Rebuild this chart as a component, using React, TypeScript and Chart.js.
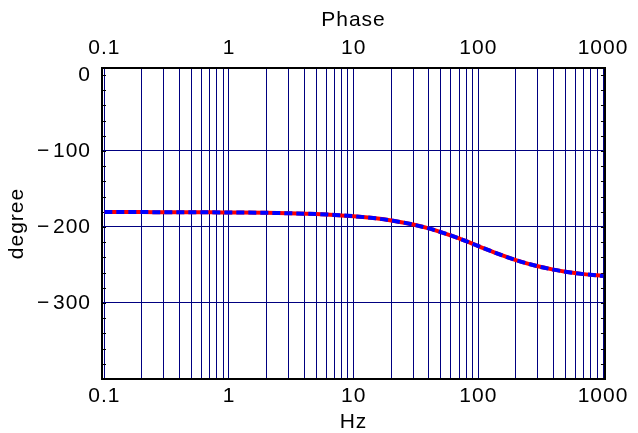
import React, { useEffect, useRef } from "react";
import { Chart, registerables } from "chart.js";

Chart.register(...registerables);

// ---- data ----
const freqHz = [0.1, 0.2, 0.3, 0.5, 0.7, 1, 2, 3, 5, 7, 10, 15, 20, 30, 40, 50, 70, 100, 150, 200, 300, 400, 500, 700, 1000];
const phaseDeg = [
  -180.4, -180.4, -180.5, -180.6, -180.7, -180.9, -181.3, -181.9, -183.0, -184.1, -185.8,
  -188.6, -191.4, -196.8, -201.9, -206.7, -215.1, -225.1, -236.4, -243.5, -251.7, -256.1,
  -258.8, -262.0, -264.4,
];

const xGridTicks = [
  0.1, 0.2, 0.3, 0.4, 0.5, 0.6, 0.7, 0.8, 0.9,
  1, 2, 3, 4, 5, 6, 7, 8, 9,
  10, 20, 30, 40, 50, 60, 70, 80, 90,
  100, 200, 300, 400, 500, 600, 700, 800, 900,
  1000,
];
const xLabelTicks = [0.1, 1, 10, 100, 1000];
const yTicks = [-400, -300, -200, -100, 0];
const yLabelTicks = [-300, -200, -100, 0];
const yGridTicks = [-300, -200, -100];
const yMinorTicks = [-400, -380, -360, -340, -320, -300, -280, -260, -240, -220, -200, -180, -160, -140, -120, -100, -80, -60, -40, -20, 0];

const X_MIN = 0.0958;
const X_MAX = 1037;
const Y_MIN = -400;
const Y_MAX = 9.2;

const FONT_FAMILY = '"Liberation Sans", Arial, Helvetica, sans-serif';
const NAVY = "#000080";

export default function App() {
  const canvasRef = useRef<HTMLCanvasElement>(null);

  useEffect(() => {
    document.body.style.margin = "0";
    const canvas = canvasRef.current;
    if (!canvas) return;

    const tickFont = { family: FONT_FAMILY, size: 21, lineHeight: 1 };
    const titleFont = { family: FONT_FAMILY, size: 21, lineHeight: 1 };
    const points = freqHz.map((x, i) => ({ x, y: phaseDeg[i] }));

    const fmtX = (v: any) => (xLabelTicks.includes(Number(v)) ? String(Number(v)) : "");
    const fmtY = (v: any) => {
      const n = Number(v);
      if (!yLabelTicks.includes(n)) return "";
      return n === 0 ? "0" : "\u2212\u200A" + Math.abs(n);
    };
    const setLogTicks = (s: any) => {
      s.ticks = xGridTicks.map((v) => ({ value: v }));
    };
    const setYTicks = (s: any) => {
      s.ticks = yTicks.map((v) => ({ value: v }));
    };

    const spacingPlugin = {
      id: "spacing",
      beforeLayout(chart: any) {
        chart.ctx.letterSpacing = "1px";
      },
      beforeDraw(chart: any) {
        chart.ctx.letterSpacing = "1px";
      },
    };

    const minorTicksPlugin = {
      id: "minorTicks",
      beforeDatasetsDraw(chart: any) {
        const { ctx, chartArea, scales } = chart;
        const y = scales.y;
        ctx.save();
        ctx.strokeStyle = "#000";
        ctx.lineWidth = 1;
        ctx.beginPath();
        for (const v of yMinorTicks) {
          const py = Math.round(y.getPixelForValue(v)) + 0.5;
          ctx.moveTo(chartArea.left, py);
          ctx.lineTo(chartArea.left + 4, py);
          ctx.moveTo(chartArea.right, py);
          ctx.lineTo(chartArea.right - 4, py);
        }
        ctx.stroke();
        ctx.restore();
      },
    };

    const chart = new Chart(canvas, {
      type: "line",
      data: {
        datasets: [
          {
            data: points,
            borderColor: "#0000ff",
            borderWidth: 4,
            borderDash: [8, 4],
            pointRadius: 0,
            fill: false,
            cubicInterpolationMode: "monotone",
            order: 1,
          },
          {
            data: points,
            borderColor: "#ff0000",
            borderWidth: 4,
            pointRadius: 0,
            fill: false,
            cubicInterpolationMode: "monotone",
            order: 2,
          },
        ],
      },
      options: {
        animation: false,
        responsive: false,
        devicePixelRatio: 1,
        layout: { padding: 0 },
        plugins: {
          legend: { display: false },
          tooltip: { enabled: false },
        },
        scales: {
          x: {
            type: "logarithmic",
            position: "bottom",
            min: X_MIN,
            max: X_MAX,
            afterBuildTicks: setLogTicks,
            afterFit: (s: any) => {
              s.height = 54;
            },
            grid: { display: true, color: NAVY, lineWidth: 1, drawTicks: false },
            border: { display: true, color: "#000", width: 2 },
            ticks: {
              autoSkip: false,
              maxRotation: 0,
              minRotation: 0,
              padding: 7,
              color: "#000",
              font: tickFont,
              callback: fmtX,
            },
            title: {
              display: true,
              text: "Hz",
              color: "#000",
              font: titleFont,
              padding: { top: 0, bottom: 0 },
            },
          },
          x2: {
            type: "logarithmic",
            position: "top",
            min: X_MIN,
            max: X_MAX,
            afterBuildTicks: setLogTicks,
            afterFit: (s: any) => {
              s.height = 68;
            },
            grid: { display: false, drawTicks: false },
            border: { display: true, color: "#000", width: 2 },
            ticks: {
              autoSkip: false,
              maxRotation: 0,
              minRotation: 0,
              padding: 9.5,
              color: "#000",
              font: tickFont,
              callback: fmtX,
            },
            title: {
              display: true,
              text: "Phase",
              color: "#000",
              font: titleFont,
              padding: { top: 9.5, bottom: 0 },
            },
          },
          y: {
            type: "linear",
            position: "left",
            min: Y_MIN,
            max: Y_MAX,
            afterBuildTicks: setYTicks,
            afterFit: (s: any) => {
              s.width = 102;
            },
            grid: {
              display: true,
              drawTicks: false,
              lineWidth: 1,
              color: (c: any) => (c.tick && yGridTicks.includes(c.tick.value) ? NAVY : "rgba(0,0,0,0)"),
            },
            border: { display: true, color: "#000", width: 2 },
            ticks: {
              padding: 11,
              color: "#000",
              font: tickFont,
              callback: fmtY,
            },
            title: {
              display: true,
              text: "degree",
              color: "#000",
              font: titleFont,
              padding: { top: 6.5, bottom: 0 },
            },
          },
          y2: {
            type: "linear",
            position: "right",
            min: Y_MIN,
            max: Y_MAX,
            afterFit: (s: any) => {
              s.width = 33;
            },
            grid: { display: false, drawTicks: false },
            border: { display: true, color: "#000", width: 2 },
            ticks: { display: false },
          },
        },
      },
      plugins: [spacingPlugin, minorTicksPlugin],
    } as any);

    return () => {
      chart.destroy();
    };
  }, []);

  return (
    <div style={{ position: "absolute", left: 0, top: 0, width: 638, height: 433, background: "#fff" }}>
      <canvas ref={canvasRef} width={638} height={433} style={{ display: "block", width: 638, height: 433 }} />
    </div>
  );
}
